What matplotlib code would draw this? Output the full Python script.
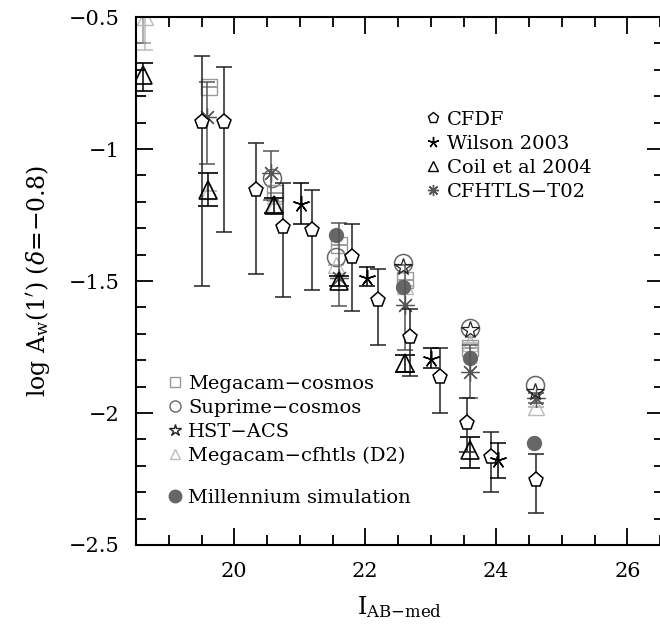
import matplotlib
matplotlib.use("Agg")
import matplotlib.pyplot as plt
from matplotlib.lines import Line2D
import numpy as np

plt.rcParams['font.family'] = ['DejaVu Serif']
plt.rcParams['mathtext.fontset'] = 'dejavuserif'

# CFDF (pentagons)
cfdf_x = [19.5, 19.85, 20.33, 20.75, 21.18, 21.79, 22.2, 22.68, 23.14, 23.55, 23.92, 24.61]
cfdf_y = [-0.897, -0.897, -1.155, -1.294, -1.307, -1.41, -1.572, -1.711, -1.862, -2.039, -2.168, -2.254]
cfdf_up = [0.249, 0.209, 0.179, 0.166, 0.152, 0.126, 0.116, 0.104, 0.107, 0.095, 0.096, 0.10]
cfdf_dn = [0.623, 0.416, 0.318, 0.268, 0.227, 0.204, 0.17, 0.149, 0.138, 0.11, 0.13, 0.126]

# Wilson 2003
wil_x = [21.02, 22.02, 23.01, 24.03]
wil_y = [-1.21, -1.49, -1.797, -2.178]
wil_up = [0.082, 0.044, 0.044, 0.065]
wil_dn = [0.074, 0.03, 0.034, 0.069]

# Coil et al 2004
coil_x = [18.6, 19.6, 20.6, 21.6, 22.6, 23.6]
coil_y = [-0.72, -1.155, -1.212, -1.50, -1.812, -2.14]
coil_up = [0.045, 0.063, 0.025, 0.02, 0.032, 0.05]
coil_dn = [0.06, 0.061, 0.029, 0.02, 0.031, 0.07]

# CFHTLS-T02
t02_x = [19.58, 20.56, 21.6, 22.6, 23.6, 24.6]
t02_y = [-0.878, -1.092, -1.489, -1.59, -1.843, -1.944]
t02_up = [0.133, 0.085, 0.21, 0.15, 0.1, 0.02]
t02_dn = [0.179, 0.10, 0.106, 0.17, 0.1, 0.02]

# Megacam-cosmos
mcos_x = [18.6, 19.62, 20.62, 21.6, 22.6, 23.6]
mcos_y = [-0.45, -0.766, -1.167, -1.364, -1.496, -1.754]
mcos_err = [0.15, 0.0, 0.0, 0.0, 0.0, 0.0]

# Suprime-cosmos
sup_x = [20.57, 21.56, 22.58, 23.6, 24.59]
sup_y = [-1.111, -1.408, -1.431, -1.679, -1.894]

# HST-ACS
hst_x = [22.58, 23.6, 24.59]
hst_y = [-1.446, -1.686, -1.919]

# Megacam-cfhtls (D2)
d2_x = [18.63, 19.62, 20.62, 21.56, 22.6, 23.6, 24.6]
d2_y = [-0.50, -1.16, -1.21, -1.44, -1.52, -1.736, -1.976]
d2_err = [0.125, 0, 0, 0, 0, 0, 0]

# Millennium simulation
mil_x = [21.56, 22.58, 23.6, 24.58]
mil_y = [-1.326, -1.521, -1.793, -2.113]

fig = plt.figure(figsize=(6.6, 6.32), dpi=100)
ax = fig.add_axes([136/660, 87/632, 528/660, 528/632])

c_sq = '#999999'
c_ci = '#666666'
c_d2 = '#bbbbbb'
c_t02 = '#555555'
lw = 1.1

ax.errorbar(d2_x, d2_y, yerr=d2_err, fmt='^', ms=12, mfc='none', mec=c_d2, ecolor=c_d2,
            capsize=6, elinewidth=lw, capthick=lw, zorder=2)
ax.errorbar(mcos_x, mcos_y, yerr=mcos_err, fmt='s', ms=11, mfc='none', mec=c_sq, ecolor=c_sq,
            capsize=6, elinewidth=lw, capthick=lw, zorder=2)
ax.plot(sup_x, sup_y, 'o', ms=13, mfc='none', mec=c_ci, mew=1.1, zorder=2)
ax.plot(mil_x, mil_y, 'o', ms=10, color=c_ci, zorder=3)
ax.errorbar(t02_x, t02_y, yerr=[t02_dn, t02_up], fmt='none', ecolor=c_t02,
            capsize=6, elinewidth=lw, capthick=lw, zorder=3)
ax.plot(t02_x, t02_y, ls='none', marker=(8, 2, 0), ms=13, color=c_t02, mew=0.9, zorder=4)
ax.plot(hst_x, hst_y, '*', ms=13, mfc='none', mec='#222222', mew=0.9, zorder=4)
ax.errorbar(coil_x, coil_y, yerr=[coil_dn, coil_up], fmt='^', ms=13, mfc='none', mec='black',
            ecolor='black', capsize=7, elinewidth=lw, capthick=lw, mew=1.2, zorder=5)
ax.errorbar(cfdf_x, cfdf_y, yerr=[cfdf_dn, cfdf_up], fmt='p', ms=11, mfc='white', mec='black',
            ecolor='#222222', capsize=6, elinewidth=lw, capthick=lw, mew=1.1, zorder=5)
ax.errorbar(wil_x, wil_y, yerr=[wil_dn, wil_up], fmt='none', ecolor='black',
            capsize=6, elinewidth=lw, capthick=lw, zorder=5)
ax.plot(wil_x, wil_y, ls='none', marker=(5, 2, 0), ms=12, color='black', mew=1.1, zorder=6)

ax.set_xlim(18.5, 26.56)
ax.set_ylim(-2.5, -0.5)
ax.set_xticks([20, 22, 24, 26])
ax.set_xticks(np.arange(18.5, 26.6, 0.5), minor=True)
ax.set_yticks([-2.5, -2, -1.5, -1, -0.5])
ax.set_yticks(np.arange(-2.5, -0.49, 0.1), minor=True)
ax.set_yticklabels(['\u22122.5', '\u22122', '\u22121.5', '\u22121', '\u22120.5'])
ax.tick_params(which='both', direction='in', top=True, right=True, labelsize=15, width=1.3)
ax.tick_params(which='major', length=12, pad=12)
ax.tick_params(which='minor', length=7)
for s in ax.spines.values():
    s.set_linewidth(1.5)

ax.set_xlabel(r'I$_{\mathrm{AB{-}med}}$', fontsize=17, labelpad=10)
ax.set_ylabel(r"log A$_{\mathrm{w}}$(1$'$) ($\delta$=$-$0.8)", fontsize=17, labelpad=12)

h_up = [
    Line2D([], [], ls='none', marker='p', ms=8, mfc='none', mec='black'),
    Line2D([], [], ls='none', marker=(5, 2, 0), ms=8, color='black'),
    Line2D([], [], ls='none', marker='^', ms=7, mfc='none', mec='black'),
    Line2D([], [], ls='none', marker=(8, 2, 0), ms=8, color=c_t02),
]
leg1 = ax.legend(h_up, ['CFDF', 'Wilson 2003', 'Coil et al 2004', 'CFHTLS\u2212T02'],
                 loc='upper left', bbox_to_anchor=(0.53, 0.84), frameon=False, fontsize=14,
                 handlelength=0.8, handletextpad=0.3, labelspacing=0.3, borderpad=0)
ax.add_artist(leg1)

h_lo = [
    Line2D([], [], ls='none', marker='s', ms=7, mfc='none', mec=c_sq),
    Line2D([], [], ls='none', marker='o', ms=8, mfc='none', mec=c_ci),
    Line2D([], [], ls='none', marker='*', ms=9, mfc='none', mec='#222222'),
    Line2D([], [], ls='none', marker='^', ms=7, mfc='none', mec=c_d2),
]
leg2 = ax.legend(h_lo, ['Megacam\u2212cosmos', 'Suprime\u2212cosmos', 'HST\u2212ACS', 'Megacam\u2212cfhtls (D2)'],
                 loc='upper left', bbox_to_anchor=(0.04, 0.34), frameon=False, fontsize=14,
                 handlelength=0.8, handletextpad=0.3, labelspacing=0.3, borderpad=0)
ax.add_artist(leg2)

h_mil = [Line2D([], [], ls='none', marker='o', ms=9, color=c_ci)]
ax.legend(h_mil, ['Millennium simulation'], loc='upper left', bbox_to_anchor=(0.04, 0.125),
          frameon=False, fontsize=14, handlelength=0.8, handletextpad=0.3, borderpad=0)

fig.savefig('out.png', dpi=100)
